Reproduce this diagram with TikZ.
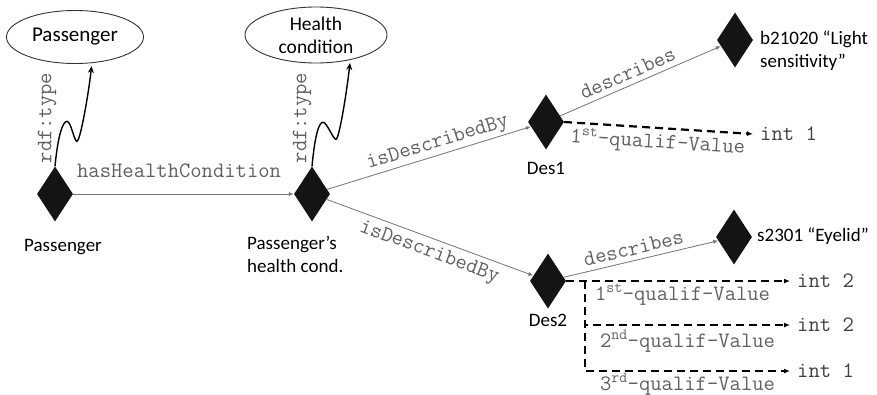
\documentclass[tikz,border=0pt]{standalone}
\usepackage{fontspec}
\setmainfont{Carlito}
\usetikzlibrary{shapes.geometric,arrows.meta}
\begin{document}
\begin{tikzpicture}[x=1pt,y=-1pt,
 dia/.style={diamond,fill=black!92,draw=none,minimum width=36pt,minimum height=55pt,inner sep=0pt},
 cls/.style={ellipse,draw=black!80,line width=0.9pt,font=\fontsize{20}{23}\selectfont,align=center,inner sep=0pt},
 lbl/.style={font=\fontsize{19}{23}\selectfont,inner sep=0pt},
 elbl/.style={font=\fontsize{22}{24}\selectfont\ttfamily,text=black!62,inner sep=0pt},
 ilbl/.style={font=\fontsize{22}{24}\selectfont\ttfamily,text=black!75,inner ysep=0pt,inner xsep=7pt,anchor=west},
 rel/.style={draw=black!55,line width=0.8pt,-{Latex[length=5pt,width=4pt]}},
 wave/.style={draw=black,line width=1.4pt,shorten >=3pt,-{Stealth[length=7pt,width=6pt]}},
 qual/.style={draw=black,line width=2.2pt,dash pattern=on 8pt off 5pt,-{Latex[length=6pt,width=5pt]}},
]
\useasboundingbox (0,0) rectangle (877,394);

% classes
\node[cls,minimum width=137pt,minimum height=53pt,font=\fontsize{21}{23}\selectfont] (e1) at (75,37) {Passenger};
\node[cls,minimum width=142pt,minimum height=56pt,font=\fontsize{19.5}{23}\selectfont] (e2) at (316,35) {Health\\condition};

% individuals
\node[dia] (p) at (55,194) {};
\node[dia] (phc) at (312,194) {};
\node[dia] (d1) at (546,122) {};
\node[dia] (d2) at (548,281) {};
\node[dia] (b) at (735,40) {};
\node[dia] (s) at (734,237) {};

% individual labels
\node[lbl] (lp) at (63,247) {Passenger};
\node[lbl,align=left,anchor=west] (lphc) at (247,254) {Passenger’s\\health cond.};
\node[lbl] (ld1) at (546,168) {Des1};
\node[lbl] (ld2) at (548,320) {Des2};
\node[lbl,align=left,anchor=west] (lb) at (760,51) {b21020 “Light\\sensitivity”};
\node[lbl,anchor=west] (ls) at (757,236) {s2301 “Eyelid”};

% values
\node[ilbl] (i0) at (753,134) {int 1};
\node[ilbl] (i1) at (790,281) {int 2};
\node[ilbl] (i2) at (790,325) {int 2};
\node[ilbl] (i3) at (790,371) {int 1};

% rdf:type
\node[elbl,rotate=90] (t1) at (47,118) {rdf:type};
\node[elbl,rotate=90] (t2) at (302,118) {rdf:type};
\draw[wave] (p.north) .. controls +(3,-32) and +(-4,0) .. ++(12,-45)
  .. controls +(4,0) and +(-3,0) .. ++(10,20)
  .. controls +(3,0) and +(-4,35) .. (e1.-57);
\draw[wave] (phc.north) .. controls +(3,-32) and +(-4,0) .. ++(11,-44)
  .. controls +(4,0) and +(-3,0) .. ++(13,17)
  .. controls +(3,0) and +(-4,35) .. (e2.-36);

% relations
\draw[rel] (p) -- node[elbl,pos=0.48,above=16pt] {hasHealthCondition} (phc);
\draw[rel] (phc) -- node[elbl,sloped,pos=0.56,above=2pt] {isDescribedBy} (d1);
\draw[rel] (phc) -- node[elbl,sloped,pos=0.52,below=5pt] {isDescribedBy} (d2);
\draw[rel] (d1) -- node[elbl,sloped,pos=0.45,above=5pt] {describes} (b);
\draw[rel] (d2) -- node[elbl,sloped,pos=0.47,above=5pt] {describes} (s);

% qualifiers
\draw[qual] (d1.east) -- node[elbl,sloped,pos=0.5,below=3pt] {1\textsuperscript{st}-qualif-Value} (i0.west);
\coordinate (c) at (585,281);
\draw[qual] (d2.east) -- node[elbl,pos=0.52,below=2pt] {1\textsuperscript{st}-qualif-Value} (i1.west);
\draw[qual] (c) |- node[elbl,pos=0.75,below=4pt] {2\textsuperscript{nd}-qualif-Value} (i2.west);
\draw[qual] (c) |- node[elbl,pos=0.75,below=1pt] {3\textsuperscript{rd}-qualif-Value} (i3.west);
\end{tikzpicture}
\end{document}
